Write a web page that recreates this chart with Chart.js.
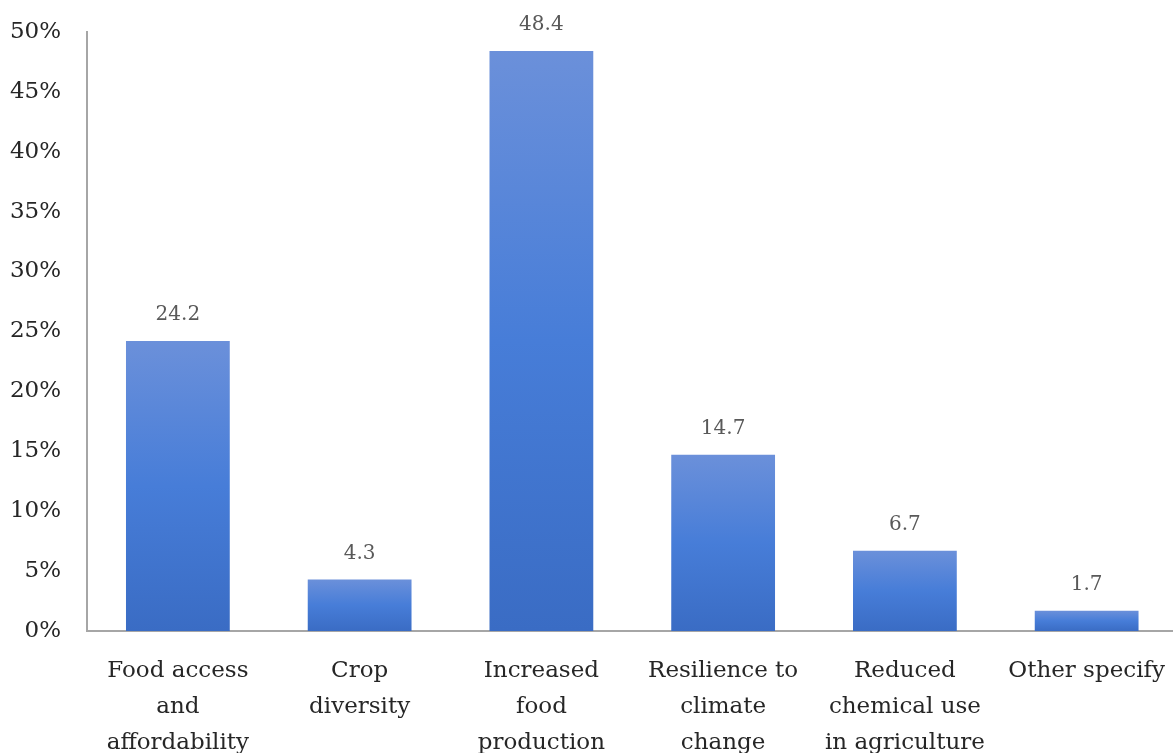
<!DOCTYPE html>
<html>
<head>
<meta charset="utf-8">
<script src="https://cdn.jsdelivr.net/npm/chart.js@4.4.1/dist/chart.umd.min.js"></script>
<style>
  html, body { margin: 0; padding: 0; background: #fff; overflow: hidden; }
  #wrap { width: 1179px; height: 753px; }
</style>
</head>
<body>
<div id="wrap"><canvas id="c" width="1179" height="753"></canvas></div>
<script>
// Survey shares (%) by perceived benefit
const categories = [
  ['Food access', 'and', 'affordability'],
  ['Crop', 'diversity'],
  ['Increased', 'food', 'production'],
  ['Resilience to', 'climate', 'change'],
  ['Reduced', 'chemical use', 'in agriculture'],
  ['Other specify']
];
const values = [24.2, 4.3, 48.4, 14.7, 6.7, 1.7];
const yTicks = [0, 5, 10, 15, 20, 25, 30, 35, 40, 45, 50];

const FONT = '"DejaVu Serif", "Liberation Serif", serif';

// vertical blue gradient per bar: lighter at the top, deeper at the base
function barFill(c) {
  const chart = c.chart;
  const ys = chart.scales.y;
  if (!ys || !chart.chartArea) return '#4a7dd6';
  const top = ys.getPixelForValue(values[c.dataIndex]);
  const base = ys.getPixelForValue(0);
  if (!isFinite(top) || !isFinite(base) || base - top < 1) return '#4a7dd6';
  const g = chart.ctx.createLinearGradient(0, top, 0, base);
  g.addColorStop(0, '#6b90da');
  g.addColorStop(0.5, '#477dd8');
  g.addColorStop(1, '#3a6cc4');
  return g;
}

// value labels above each bar
const valueLabels = {
  id: 'valueLabels',
  afterDatasetsDraw(chart) {
    const ctx = chart.ctx;
    const meta = chart.getDatasetMeta(0);
    ctx.save();
    ctx.font = '20px ' + FONT;
    ctx.fillStyle = '#595959';
    ctx.textAlign = 'center';
    ctx.textBaseline = 'middle';
    meta.data.forEach((bar, i) => {
      ctx.fillText(values[i].toFixed(1), bar.x, bar.y - 26);
    });
    ctx.restore();
  }
};

new Chart(document.getElementById('c'), {
  type: 'bar',
  data: {
    labels: categories,
    datasets: [{
      data: values,
      backgroundColor: barFill,
      borderWidth: 0,
      categoryPercentage: 1,
      barPercentage: 0.571
    }]
  },
  options: {
    responsive: false,
    animation: false,
    layout: { padding: { top: 23, left: 0, right: 0, bottom: 0 } },
    plugins: { legend: { display: false }, tooltip: { enabled: false } },
    scales: {
      x: {
        grid: { display: false },
        border: { display: true, color: '#a6a6a6', width: 2 },
        ticks: {
          color: '#262626',
          font: { family: FONT, size: 23, lineHeight: 1.565 },
          padding: 14,
          maxRotation: 0,
          autoSkip: false
        },
        afterFit(s) { s.height = 122; }
      },
      y: {
        min: 0,
        max: 50,
        afterBuildTicks(s) { s.ticks = yTicks.map(v => ({ value: v })); },
        grid: { display: false },
        border: { display: true, color: '#a6a6a6', width: 2 },
        ticks: {
          color: '#262626',
          font: { family: FONT, size: 23 },
          padding: 18,
          callback: v => v + '%'
        },
        afterFit(s) { s.width = 87; }
      }
    }
  },
  plugins: [valueLabels]
});
</script>
</body>
</html>
